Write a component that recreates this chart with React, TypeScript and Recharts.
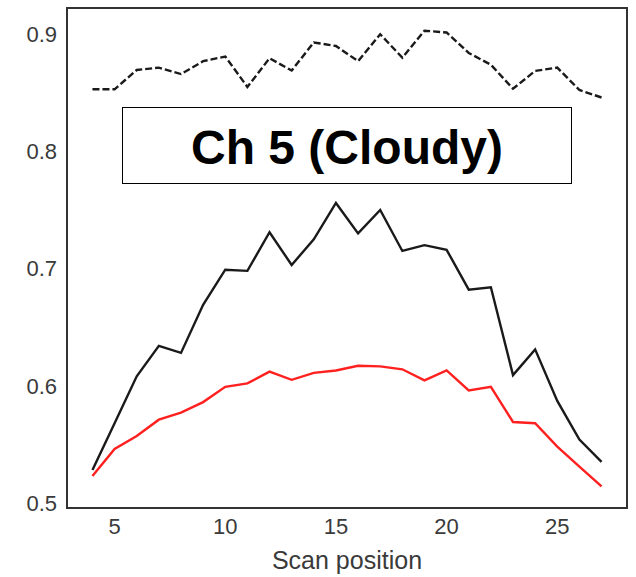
import React from "react";
import { LineChart, Line, XAxis, YAxis, ReferenceArea } from "recharts";

const scanPositions = [4, 5, 6, 7, 8, 9, 10, 11, 12, 13, 14, 15, 16, 17, 18, 19, 20, 21, 22, 23, 24, 25, 26, 27];
const blackSeries = [0.528, 0.568, 0.608, 0.634, 0.628, 0.669, 0.699, 0.698, 0.731, 0.703, 0.725, 0.756, 0.730, 0.750, 0.715, 0.720, 0.716, 0.682, 0.684, 0.609, 0.631, 0.587, 0.554, 0.535];
const redSeries = [0.523, 0.546, 0.557, 0.571, 0.577, 0.586, 0.599, 0.602, 0.612, 0.605, 0.611, 0.613, 0.617, 0.6165, 0.614, 0.6045, 0.613, 0.596, 0.599, 0.569, 0.568, 0.548, 0.531, 0.514];
const dashedSeries = [0.853, 0.853, 0.8695, 0.8715, 0.866, 0.877, 0.881, 0.855, 0.8795, 0.869, 0.893, 0.890, 0.877, 0.900, 0.880, 0.903, 0.9015, 0.884, 0.874, 0.8535, 0.8687, 0.8715, 0.8524, 0.846];
const xTicks = [5, 10, 15, 20, 25];
const yTicks = [0.5, 0.6, 0.7, 0.8, 0.9];
const xDomain = [2.85, 28.15];
const yDomain = [0.4956, 0.9224];
const titleText = "Ch 5 (Cloudy)";
const xLabel = "Scan position";

const data = scanPositions.map((x, i) => ({
  x,
  black: blackSeries[i],
  red: redSeries[i],
  dashed: dashedSeries[i],
}));

const FONT = "'Liberation Sans', Arial, sans-serif";

export default function App() {
  return (
    <div style={{ position: "absolute", left: 0, top: 0, width: 636, height: 577, background: "#fff" }}>
      <LineChart width={636} height={577} data={data} margin={{ top: 8, right: 9, left: 0, bottom: 0 }}>
        <XAxis
          dataKey="x"
          type="number"
          domain={xDomain}
          ticks={xTicks}
          allowDataOverflow
          height={69}
          tickLine={false}
          axisLine={false}
          tickMargin={4}
          tick={{ fill: "#3a3a3a", fontSize: 22, fontFamily: FONT }}
          label={{ value: xLabel, position: "insideBottom", offset: 8, fill: "#3a3a3a", fontSize: 25, fontFamily: FONT }}
        />
        <YAxis
          type="number"
          domain={yDomain}
          ticks={yTicks}
          allowDataOverflow
          width={67}
          tickLine={false}
          axisLine={false}
          tickMargin={4}
          tickFormatter={(v: number) => v.toFixed(1)}
          tick={{ fill: "#3a3a3a", fontSize: 22, fontFamily: FONT }}
        />
        <ReferenceArea
          x1={xDomain[0]}
          x2={xDomain[1]}
          y1={yDomain[0]}
          y2={yDomain[1]}
          fill="none"
          stroke="#333"
          strokeWidth={2}
          ifOverflow="visible"
        />
        <Line dataKey="dashed" stroke="#1a1a1a" strokeWidth={2.4} strokeDasharray="7 3" dot={false} isAnimationActive={false} />
        <Line dataKey="black" stroke="#1a1a1a" strokeWidth={2.4} dot={false} isAnimationActive={false} />
        <Line dataKey="red" stroke="#ff2020" strokeWidth={2.4} dot={false} isAnimationActive={false} />
      </LineChart>
      <div
        style={{
          position: "absolute",
          left: 122,
          top: 107,
          width: 450,
          height: 77,
          boxSizing: "border-box",
          border: "1.5px solid #000",
          background: "#fff",
          display: "flex",
          alignItems: "center",
          justifyContent: "center",
          fontFamily: FONT,
          fontWeight: "bold",
          fontSize: 48,
          color: "#000",
          lineHeight: 1,
          paddingTop: 4,
        }}
      >
        {titleText}
      </div>
    </div>
  );
}
